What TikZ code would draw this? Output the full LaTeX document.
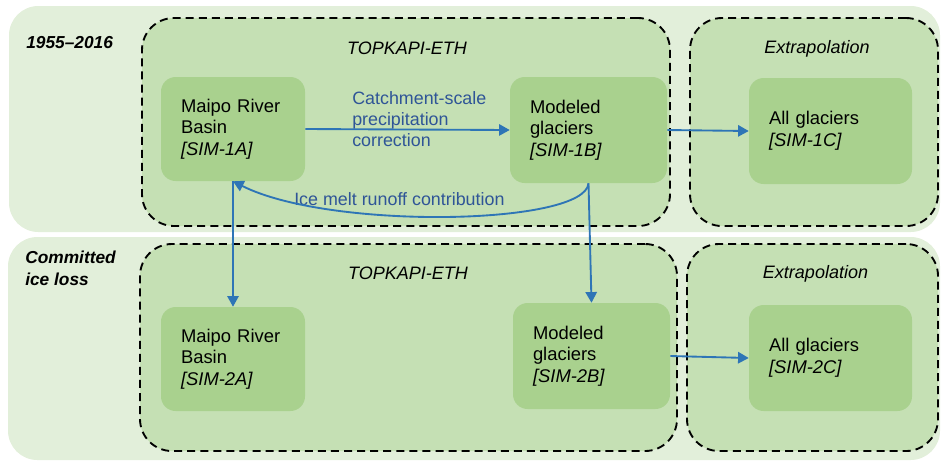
\documentclass[tikz,border=0pt]{standalone}
\usepackage{fontspec}
\setmainfont{Liberation Sans}
\usetikzlibrary{arrows.meta}
\definecolor{bandfill}{HTML}{E2EFDA}
\definecolor{groupfill}{HTML}{C5E0B4}
\definecolor{nodefill}{HTML}{A9D18E}
\definecolor{arrowblue}{HTML}{2E75B6}
\definecolor{labelblue}{HTML}{2F5597}
\tikzset{
  band/.style={fill=bandfill, draw=none, rounded corners=22pt, inner sep=0pt},
  group/.style={fill=groupfill, draw=black, line width=1.4pt, dash pattern=on 6pt off 3.8pt, rounded corners=24pt, inner sep=0pt},
  simbox/.style={fill=nodefill, draw=none, rounded corners=11pt, align=left, inner xsep=15pt, inner ysep=0pt,
     font=\fontsize{13.8}{16.3}\selectfont, anchor=center},
  flow/.style={draw=arrowblue, line width=1.4pt, -{Triangle[length=8pt,width=8.5pt]}},
  grouptitle/.style={font=\fontsize{13.5}{16}\selectfont\itshape, inner sep=0pt, anchor=base},
  rowtitle/.style={font=\fontsize{13}{16.5}\selectfont\bfseries\itshape, inner sep=0pt, align=left},
  flowlabel/.style={text=labelblue, font=\fontsize{13.4}{15.8}\selectfont, inner sep=0pt, align=left}
}
\begin{document}
\begin{tikzpicture}[x=0.75pt, y=-0.75pt]
\useasboundingbox (0,0) rectangle (941,462);
% bands
\node[band, minimum width=698.25pt, minimum height=169.5pt] (band1) at (474.5,119) {};
\node[band, minimum width=699pt, minimum height=167.25pt] (band2) at (474,348.5) {};
% dashed groups
\node[group, minimum width=396pt, minimum height=156pt] (top1) at (406,122) {};
\node[group, minimum width=186pt, minimum height=156pt] (ext1) at (814,122) {};
\node[group, minimum width=402.75pt, minimum height=155.25pt] (top2) at (408.5,347.5) {};
\node[group, minimum width=188.25pt, minimum height=155.25pt] (ext2) at (812.5,347.5) {};
% titles
\node[rowtitle, anchor=base west] (row1) at (26,48) {1955–2016};
\node[rowtitle, anchor=base west] (row2) at (25,285) {Committed\\ice loss};
\node[grouptitle] (t1) at (407,54) {TOPKAPI-ETH};
\node[grouptitle] (e1) at (817,53) {Extrapolation};
\node[grouptitle] (t2) at (408,279) {TOPKAPI-ETH};
\node[grouptitle] (e2) at (815.5,278) {Extrapolation};
% sim nodes
\node[simbox, minimum width=108pt, minimum height=78pt, text width=78pt] (s1a) at (233,129) {Maipo River\\Basin\\\textit{[SIM-1A]}};
\node[simbox, minimum width=117.75pt, minimum height=79.5pt, text width=87.75pt] (s1b) at (588.5,130) {Modeled\\glaciers\\\textit{[SIM-1B]}};
\node[simbox, minimum width=122.25pt, minimum height=79.5pt, text width=92.25pt] (s1c) at (830.5,131) {All glaciers\\\textit{[SIM-1C]}};
\node[simbox, minimum width=108pt, minimum height=78pt, text width=78pt] (s2a) at (233,359) {Maipo River\\Basin\\\textit{[SIM-2A]}};
\node[simbox, minimum width=117.75pt, minimum height=79.5pt, text width=87.75pt] (s2b) at (591.5,356) {Modeled\\glaciers\\\textit{[SIM-2B]}};
\node[simbox, minimum width=122.25pt, minimum height=79.5pt, text width=92.25pt] (s2c) at (830.5,358) {All glaciers\\\textit{[SIM-2C]}};
% labels
\node[flowlabel, anchor=north west] (lcorr) at (352,91.5) {Catchment-scale\\precipitation\\correction};
\node[flowlabel, anchor=base west] (lmelt) at (294,205) {Ice melt runoff contribution};
% connectors
\draw[flow] (s1a.east) -- (s1b.west);
\draw[flow] (s1b.east) -- (s1c.west);
\draw[flow] (s2b.east) -- (s2c.west);
\draw[flow] (s1a.south) -- (s2a.north);
\draw[flow] (s1b.south) -- (s2b.north);
\draw[flow] (s1b.south) .. controls +(-3,42) and +(97,49) .. (s1a.south);
\end{tikzpicture}
\end{document}
